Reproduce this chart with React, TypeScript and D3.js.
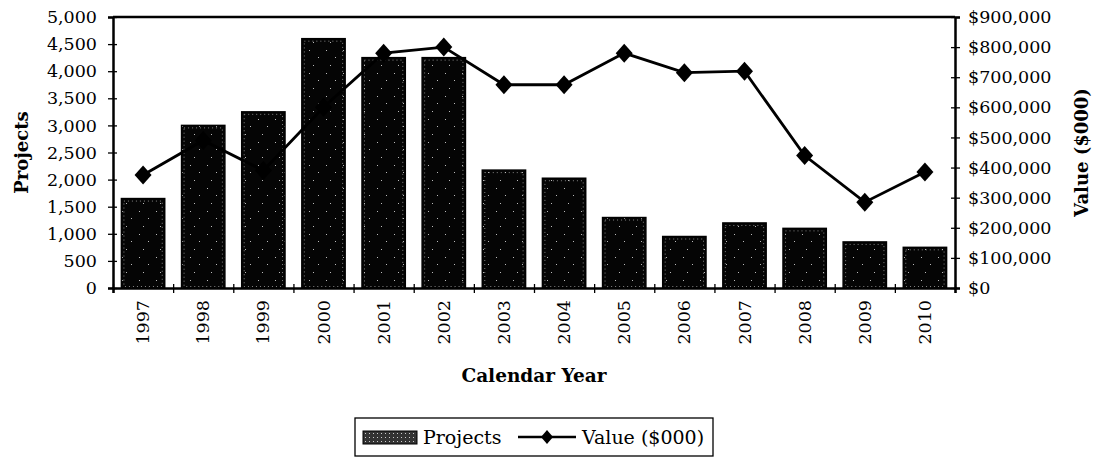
import React, { useEffect, useRef } from "react";
import * as d3 from "d3";

const years = ["1997", "1998", "1999", "2000", "2001", "2002", "2003", "2004", "2005", "2006", "2007", "2008", "2009", "2010"];
const projects = [1650, 3000, 3250, 4600, 4250, 4250, 2175, 2025, 1300, 950, 1200, 1100, 850, 750];
const values = [375000, 490000, 390000, 600000, 780000, 800000, 675000, 675000, 780000, 715000, 720000, 440000, 285000, 385000];
const leftTicks = d3.range(0, 5001, 500);
const rightTicks = d3.range(0, 900001, 100000);

const FONT = "DejaVu Serif";

const App = () => {
  const ref = useRef<SVGSVGElement>(null);

  useEffect(() => {
    const svg = d3.select(ref.current);
    svg.selectAll("*").remove();

    const width = 1097;
    const height = 463;
    const margin = { top: 17, right: 142, bottom: 175, left: 113 };
    const x0 = margin.left;
    const x1 = width - margin.right;
    const yBottom = height - margin.bottom;

    svg.append("rect").attr("width", width).attr("height", height).attr("fill", "#fff");

    // speckled fill for the bars
    const defs = svg.append("defs");
    const pat = defs.append("pattern")
      .attr("id", "speck")
      .attr("patternUnits", "userSpaceOnUse")
      .attr("width", 17)
      .attr("height", 23);
    pat.append("rect").attr("width", 17).attr("height", 23).attr("fill", "#050505");
    [[3, 4], [12, 11], [7, 19]].forEach(([px, py]) => {
      pat.append("rect").attr("x", px).attr("y", py).attr("width", 1).attr("height", 1).attr("fill", "#bbb");
    });
    const lpat = defs.append("pattern")
      .attr("id", "lspeck")
      .attr("patternUnits", "userSpaceOnUse")
      .attr("width", 4)
      .attr("height", 4);
    lpat.append("rect").attr("width", 4).attr("height", 4).attr("fill", "#333");
    lpat.append("rect").attr("x", 1).attr("y", 1).attr("width", 1).attr("height", 1).attr("fill", "#ccc");

    const x = d3.scaleBand<string>().domain(years).range([x0, x1]).paddingInner(0.28).paddingOuter(0.14);
    const xEdge = d3.scaleLinear().domain([0, years.length]).range([x0, x1]);
    const yL = d3.scaleLinear().domain([0, 5000]).range([yBottom, margin.top]);
    const yR = d3.scaleLinear().domain([0, 900000]).range([yBottom, margin.top]);

    // bars
    const bars = svg.append("g");
    years.forEach((yr, i) => {
      const bx = x(yr)!;
      const by = yL(projects[i]);
      const bw = x.bandwidth();
      const bh = yBottom - by;
      bars.append("rect")
        .attr("x", bx).attr("y", by).attr("width", bw).attr("height", bh)
        .attr("fill", "url(#speck)").attr("stroke", "#000").attr("stroke-width", 1.5);
      bars.append("rect")
        .attr("x", bx + 2.5).attr("y", by + 2.5).attr("width", bw - 5).attr("height", Math.max(0, bh - 4))
        .attr("fill", "none").attr("stroke", "#bbb").attr("stroke-width", 0.7).attr("stroke-dasharray", "1,3");
    });

    // top border
    svg.append("line")
      .attr("x1", x0).attr("x2", x1).attr("y1", margin.top).attr("y2", margin.top)
      .attr("stroke", "#000").attr("stroke-width", 2.5);

    // line series
    const cx = (i: number) => x(years[i])! + x.bandwidth() / 2;
    const line = d3.line<number>().x((d, i) => cx(i)).y(d => yR(d));
    svg.append("path")
      .datum(values)
      .attr("fill", "none").attr("stroke", "#000").attr("stroke-width", 2.8)
      .attr("d", line);
    const diamond = "M0,-9.5L8.5,0L0,9.5L-8.5,0Z";
    svg.append("g").selectAll("path").data(values).join("path")
      .attr("d", diamond)
      .attr("transform", (d, i) => `translate(${cx(i)},${yR(d)})`)
      .attr("fill", "#000");

    const styleAxis = (g: any, size: number) => {
      g.select(".domain").attr("stroke-width", 2.5);
      g.selectAll(".tick line").attr("stroke-width", 1.3);
      g.selectAll(".tick text").attr("font-family", FONT).attr("font-size", size).attr("fill", "#000");
    };

    // left axis
    const gl = svg.append("g")
      .attr("transform", `translate(${x0},0)`)
      .call(d3.axisLeft(yL).tickValues(leftTicks).tickFormat(d3.format(",")).tickSizeOuter(0).tickSize(5).tickPadding(11));
    styleAxis(gl, 17.5);
    gl.selectAll(".tick line").attr("x2", -5).attr("x1", 4);

    // right axis
    const gr = svg.append("g")
      .attr("transform", `translate(${x1},0)`)
      .call(d3.axisRight(yR).tickValues(rightTicks).tickFormat(d => "$" + d3.format(",")(d as number)).tickSizeOuter(0).tickSize(5).tickPadding(8));
    styleAxis(gr, 17.5);
    gr.selectAll(".tick line").attr("x2", 5).attr("x1", -4);

    // bottom axis: ticks at category edges
    const gb = svg.append("g")
      .attr("transform", `translate(0,${yBottom})`)
      .call(d3.axisBottom(xEdge).tickValues(d3.range(0, years.length + 1)).tickFormat(() => "").tickSizeOuter(0).tickSize(5));
    styleAxis(gb, 17);
    gb.selectAll(".tick line").attr("y1", -4).attr("y2", 5);

    // year labels
    svg.append("g").selectAll("text").data(years).join("text")
      .attr("transform", d => `translate(${x(d)! + x.bandwidth() / 2 + 6},${yBottom + 12}) rotate(-90)`)
      .attr("text-anchor", "end")
      .attr("font-family", FONT).attr("font-size", 17.5)
      .text(d => d);

    // axis titles
    svg.append("text")
      .attr("transform", `translate(28,${(margin.top + yBottom) / 2}) rotate(-90)`)
      .attr("text-anchor", "middle")
      .attr("font-family", FONT).attr("font-size", 18).attr("font-weight", "bold")
      .text("Projects");
    svg.append("text")
      .attr("transform", `translate(1088,${(margin.top + yBottom) / 2}) rotate(-90)`)
      .attr("text-anchor", "middle")
      .attr("font-family", FONT).attr("font-size", 18).attr("font-weight", "bold")
      .text("Value ($000)");
    svg.append("text")
      .attr("x", (x0 + x1) / 2).attr("y", 382)
      .attr("text-anchor", "middle")
      .attr("font-family", FONT).attr("font-size", 18.5).attr("font-weight", "bold")
      .text("Calendar Year");

    // legend
    const lg = svg.append("g");
    lg.append("rect")
      .attr("x", 355).attr("y", 418).attr("width", 358).attr("height", 38)
      .attr("fill", "#fff").attr("stroke", "#000").attr("stroke-width", 1.3);
    lg.append("rect")
      .attr("x", 363).attr("y", 431).attr("width", 54).attr("height", 13)
      .attr("fill", "url(#lspeck)").attr("stroke", "#000").attr("stroke-width", 1);
    lg.append("text")
      .attr("x", 423).attr("y", 444)
      .attr("font-family", FONT).attr("font-size", 19)
      .text("Projects");
    lg.append("line")
      .attr("x1", 518).attr("x2", 576).attr("y1", 437).attr("y2", 437)
      .attr("stroke", "#000").attr("stroke-width", 2.4);
    lg.append("path")
      .attr("d", "M0,-7L6,0L0,7L-6,0Z")
      .attr("transform", "translate(547,437)")
      .attr("fill", "#000");
    lg.append("text")
      .attr("x", 582).attr("y", 444)
      .attr("font-family", FONT).attr("font-size", 19)
      .text("Value ($000)");
  }, []);

  return (
    <svg ref={ref} width={1097} height={463} style={{ position: "absolute", left: 0, top: 0 }}></svg>
  );
};

export default App;
